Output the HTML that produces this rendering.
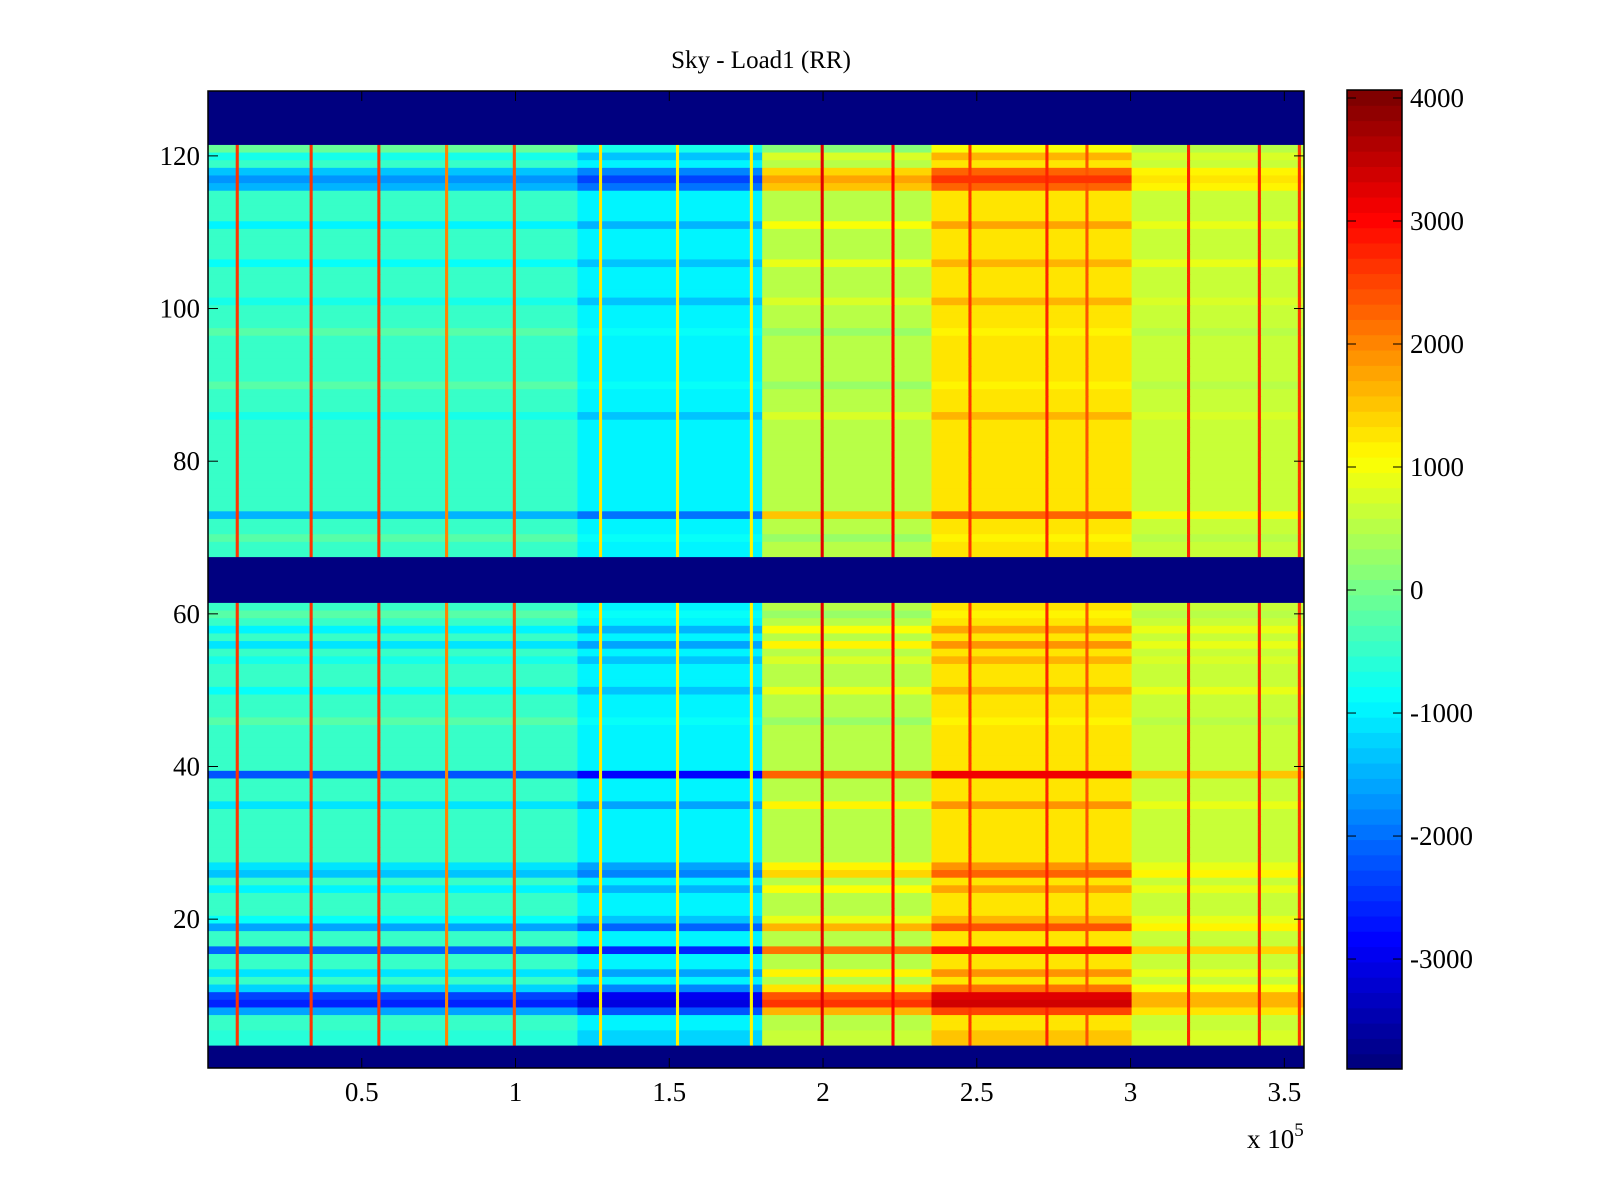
<!DOCTYPE html>
<html><head><meta charset="utf-8"><style>
html,body{margin:0;padding:0;background:#fff;}
svg{display:block;font-family:"Liberation Serif",serif;}
</style></head><body>
<svg id="chart" width="1600" height="1200" xmlns="http://www.w3.org/2000/svg">
<text x="761" y="68" font-size="25" text-anchor="middle">Sky - Load1 (RR)</text>
<g id="cells"></g>
<g id="axes"></g>
<g id="cbar"></g>
</svg>
<script>
// ---- data ----
const segStarts = [0, 1.2, 1.8, 2.35, 3.0];      // x 1e5
const segBase   = [-450, -1000, 500, 1300, 650];
const segSign   = [-1, -1, 1, 1, 0.5];
const spikeX    = [0.10, 0.34, 0.56, 0.78, 1.0, 1.28, 1.53, 1.77, 2.0, 2.23, 2.48, 2.73, 2.86, 3.19, 3.42, 3.55];
const spikeVal  = [2600, 2600, 2600, 2000, 2400, 1300, 1100, 1100, 3200, 3000, 2600, 2800, 2400, 2800, 2800, 2600];
const maskedRows = [[1,3],[62,67],[122,128]];
const rowIds    = [4,5,8,9,10,11,13,16,19,20,24,26,27,35,39,46,50,54,56,58,60,70,73,86,90,97,101,106,111,116,117,118,120,121];
const rowK      = [200,200,1200,2100,1900,800,600,1600,1100,400,500,900,600,600,1800,-200,400,300,600,500,-200,-200,1000,300,-200,-200,300,400,500,1000,1300,900,300,-300];
const cbTicks   = [-3000,-2000,-1000,0,1000,2000,3000,4000];
const xTicks    = [0.5,1,1.5,2,2.5,3,3.5];
const yTicks    = [20,40,60,80,100,120];
// ---- layout ----
const PL=208,PR=1304,PT=91,PB=1068, XMAX=3.564, NR=128, NB=356;
const CMIN=-3894, CMAX=4065, CBL=1347, CBR=1402, CBT=90, CBB=1069;
const xs=v=>PL+(v/XMAX)*(PR-PL);
const ys=r=>PB-(r-0.5)*(PB-PT)/NR;
const NS="http://www.w3.org/2000/svg";
function jet(v){
  let t=(v-CMIN)/(CMAX-CMIN); t=Math.max(0,Math.min(1,t));
  t=Math.min(63,Math.floor(t*64))/63;
  const c=x=>Math.round(255*Math.max(0,Math.min(1,x)));
  return `rgb(${c(1.5-Math.abs(4*t-3))},${c(1.5-Math.abs(4*t-2))},${c(1.5-Math.abs(4*t-1))})`;
}
function mk(tag,attrs,parent){const e=document.createElementNS(NS,tag);for(const k in attrs)e.setAttribute(k,attrs[k]);parent.appendChild(e);return e;}
const bw=XMAX/NB;
function cellValue(r,xv){
  for(const [a,b] of maskedRows) if(r>=a&&r<=b) return CMIN+10;
  let s=0; for(let i=0;i<segStarts.length;i++) if(xv>=segStarts[i]) s=i;
  const idx=rowIds.indexOf(r); const k=idx>=0?rowK[idx]:0;
  let v=segBase[s]+k*segSign[s];
  for(let i=0;i<spikeX.length;i++) if(Math.abs(xv-spikeX[i])<bw/2) v=Math.max(v,spikeVal[i]);
  return v;
}
const cells=document.getElementById('cells');
for(let r=1;r<=NR;r++){
  let runStart=0, runCol=null;
  for(let b=0;b<=NB;b++){
    const col=b<NB?jet(cellValue(r,(b+0.5)*bw)):null;
    if(col!==runCol){
      if(runCol!==null){
        const el=mk('rect',{x:xs(runStart*bw),y:ys(r+0.5),width:xs(b*bw)-xs(runStart*bw)+0.5,height:(PB-PT)/NR+0.5,fill:runCol},cells);
        
        
      }
      runStart=b; runCol=col;
    }
  }
}
const axes=document.getElementById('axes');
const frame=mk('rect',{x:PL,y:PT,width:PR-PL,height:PB-PT,fill:'none',stroke:'#000','stroke-width':1.5},axes);


xTicks.forEach(t=>{
  const x=xs(t);
  mk('line',{x1:x,x2:x,y1:PB,y2:PB-10,stroke:'#000'},axes);
  mk('line',{x1:x,x2:x,y1:PT,y2:PT+10,stroke:'#000'},axes);
  const tx=mk('text',{x:x,y:PB+33,'font-size':27,'text-anchor':'middle'},axes);
  tx.textContent=String(t);
  
  
});
yTicks.forEach(t=>{
  const y=ys(t);
  mk('line',{x1:PL,x2:PL+10,y1:y,y2:y,stroke:'#000'},axes);
  mk('line',{x1:PR,x2:PR-10,y1:y,y2:y,stroke:'#000'},axes);
  const tx=mk('text',{x:PL-8,y:y+9,'font-size':27,'text-anchor':'end'},axes);
  tx.textContent=String(t);
  
  
});
const ex=mk('text',{x:1247,y:1148,'font-size':27},axes);
ex.innerHTML='x 10<tspan dy="-12" font-size="19">5</tspan>';


const cbar=document.getElementById('cbar');
const cs=v=>CBB-(v-CMIN)/(CMAX-CMIN)*(CBB-CBT);
for(let i=0;i<64;i++){
  const v0=CMIN+(CMAX-CMIN)*i/64, v1=CMIN+(CMAX-CMIN)*(i+1)/64;
  const el=mk('rect',{x:CBL,y:cs(v1),width:CBR-CBL,height:cs(v0)-cs(v1)+0.5,fill:jet((v0+v1)/2)},cbar);
  
  
}
mk('rect',{x:CBL,y:CBT,width:CBR-CBL,height:CBB-CBT,fill:'none',stroke:'#000','stroke-width':1.5},cbar);
cbTicks.forEach(t=>{
  const y=cs(t);
  mk('line',{x1:CBL,x2:CBL+9,y1:y,y2:y,stroke:'#000'},cbar);
  mk('line',{x1:CBR,x2:CBR-9,y1:y,y2:y,stroke:'#000'},cbar);
  const tx=mk('text',{x:CBR+8,y:y+9,'font-size':27},cbar);
  tx.textContent=String(t);
  
  
});
</script>
</body></html>
